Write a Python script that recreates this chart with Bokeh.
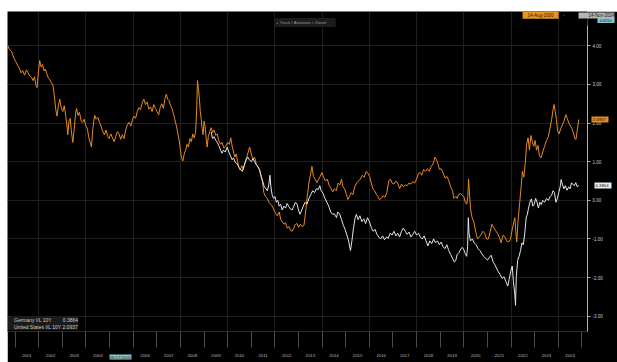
from bokeh.plotting import figure
from bokeh.models import (Range1d, FixedTicker, NumeralTickFormatter, Label,
                          Legend, LegendItem, LinearAxis, Spacer)
from bokeh.layouts import column, row
from bokeh.embed import file_html
from bokeh.resources import INLINE

# ---------------- data ----------------
series_names = ["Germany I/L 10Y", "United States I/L 10Y"]
start_date = "14-Aug-2000"
end_date = "14-Nov-2024"
cursor_date = "06/17/2005"
cursor_year = 2005.46
cursor_value = 4.655
controls_text = "+ Track    / Annotate    \u2315 Zoom"

years = list(range(2001, 2025))
y_ticks = [-3, -2, -1, 0, 1, 2, 3, 4]
grid_years = list(range(2002, 2025, 2))

us_t = [2000.65, 2000.75, 2000.85, 2000.95, 2001.02, 2001.10, 2001.18, 2001.25, 2001.32, 2001.40,
        2001.48, 2001.55, 2001.62, 2001.70, 2001.76, 2001.82, 2001.88, 2001.93, 2001.98, 2002.04,
        2002.10, 2002.16, 2002.22, 2002.28, 2002.34, 2002.40, 2002.47, 2002.53, 2002.60, 2002.66,
        2002.72, 2002.77, 2002.83, 2002.89, 2002.95, 2003.02, 2003.08, 2003.14, 2003.19, 2003.23,
        2003.28, 2003.33, 2003.38, 2003.44, 2003.50, 2003.56, 2003.60, 2003.66, 2003.72, 2003.80,
        2003.86, 2003.92, 2004.00, 2004.06, 2004.12, 2004.18, 2004.23, 2004.28, 2004.33, 2004.37,
        2004.43, 2004.50, 2004.57, 2004.64, 2004.70, 2004.78, 2004.85, 2004.92, 2004.98, 2005.05,
        2005.12, 2005.19, 2005.26, 2005.33, 2005.40, 2005.47, 2005.54, 2005.61, 2005.68, 2005.75,
        2005.82, 2005.90, 2005.97, 2006.03, 2006.10, 2006.17, 2006.24, 2006.31, 2006.38, 2006.45,
        2006.52, 2006.59, 2006.66, 2006.73, 2006.80, 2006.87, 2006.94, 2007.01, 2007.08, 2007.14,
        2007.21, 2007.28, 2007.34, 2007.40, 2007.46, 2007.52, 2007.58, 2007.64, 2007.70, 2007.76,
        2007.82, 2007.87, 2007.93, 2007.98, 2008.04, 2008.10, 2008.16, 2008.22, 2008.28, 2008.34,
        2008.40, 2008.46, 2008.52, 2008.58, 2008.64, 2008.69, 2008.72, 2008.76, 2008.80, 2008.84,
        2008.88, 2008.92, 2008.96, 2009.00, 2009.04, 2009.09, 2009.13, 2009.18, 2009.24, 2009.30,
        2009.36, 2009.42, 2009.50, 2009.56, 2009.62, 2009.70, 2009.76, 2009.84, 2009.92, 2010.00,
        2010.07, 2010.13, 2010.19, 2010.25, 2010.30, 2010.36, 2010.42, 2010.48, 2010.53, 2010.60,
        2010.66, 2010.72, 2010.80, 2010.87, 2010.93, 2011.00, 2011.07, 2011.14, 2011.21, 2011.28,
        2011.35, 2011.42, 2011.47, 2011.53, 2011.60, 2011.68, 2011.75, 2011.82, 2011.89, 2011.96,
        2012.04, 2012.10, 2012.18, 2012.25, 2012.31, 2012.38, 2012.45, 2012.52, 2012.60, 2012.66,
        2012.73, 2012.80, 2012.87, 2012.94, 2013.00, 2013.08, 2013.15, 2013.23, 2013.30, 2013.37,
        2013.44, 2013.50, 2013.57, 2013.63, 2013.70, 2013.78, 2013.85, 2013.92, 2013.99, 2014.06,
        2014.14, 2014.22, 2014.30, 2014.38, 2014.45, 2014.52, 2014.60, 2014.68, 2014.75, 2014.82,
        2014.88, 2014.95, 2015.03, 2015.09, 2015.16, 2015.23, 2015.30, 2015.38, 2015.46, 2015.54,
        2015.62, 2015.70, 2015.78, 2015.87, 2015.94, 2016.01, 2016.08, 2016.15, 2016.22, 2016.30,
        2016.36, 2016.42, 2016.50, 2016.58, 2016.66, 2016.74, 2016.82, 2016.89, 2016.96, 2017.04,
        2017.12, 2017.20, 2017.28, 2017.36, 2017.44, 2017.52, 2017.60, 2017.68, 2017.76, 2017.84,
        2017.92, 2018.00, 2018.08, 2018.15, 2018.22, 2018.30, 2018.38, 2018.46, 2018.54, 2018.62,
        2018.70, 2018.78, 2018.84, 2018.90, 2018.97, 2019.04, 2019.12, 2019.20, 2019.28, 2019.36,
        2019.44, 2019.52, 2019.58, 2019.66, 2019.72, 2019.78, 2019.86, 2019.94, 2020.00, 2020.06,
        2020.12, 2020.17, 2020.20, 2020.23, 2020.28, 2020.35, 2020.42, 2020.50, 2020.58, 2020.65,
        2020.72, 2020.80, 2020.88, 2020.96, 2021.04, 2021.12, 2021.19, 2021.26, 2021.34, 2021.42,
        2021.50, 2021.58, 2021.66, 2021.74, 2021.82, 2021.90, 2021.97, 2022.05, 2022.12, 2022.16,
        2022.20, 2022.24, 2022.30, 2022.36, 2022.42, 2022.48, 2022.54, 2022.60, 2022.66, 2022.72,
        2022.78, 2022.84, 2022.90, 2022.96, 2023.02, 2023.08, 2023.14, 2023.20, 2023.27, 2023.34,
        2023.42, 2023.50, 2023.58, 2023.66, 2023.72, 2023.78, 2023.82, 2023.87, 2023.92, 2023.97,
        2024.03, 2024.10, 2024.17, 2024.24, 2024.32, 2024.38, 2024.45, 2024.52, 2024.58, 2024.64,
        2024.70, 2024.75, 2024.80, 2024.87]
us_v = [4.05, 3.92, 3.85, 3.68, 3.60, 3.50, 3.42, 3.30, 3.36, 3.24,
        3.38, 3.30, 3.22, 3.18, 3.10, 3.20, 2.98, 2.92, 3.30, 3.62,
        3.45, 3.52, 3.35, 3.40, 3.28, 3.18, 3.12, 3.05, 2.98, 2.70,
        2.35, 2.18, 2.45, 2.62, 2.40, 2.30, 2.45, 2.20, 1.95, 1.70,
        2.05, 2.12, 1.80, 1.50, 1.85, 2.25, 2.38, 2.20, 2.28, 2.05,
        2.02, 2.10, 1.92, 1.85, 1.62, 1.50, 1.38, 1.80, 2.05, 2.20,
        2.10, 2.15, 2.02, 1.92, 1.80, 1.70, 1.82, 1.65, 1.60, 1.72,
        1.62, 1.52, 1.65, 1.78, 1.72, 1.58, 1.70, 1.60, 1.82, 1.95,
        2.02, 1.92, 2.10, 2.18, 2.12, 2.30, 2.40, 2.35, 2.52, 2.62,
        2.48, 2.55, 2.36, 2.42, 2.30, 2.48, 2.38, 2.30, 2.22, 2.40,
        2.50, 2.38, 2.62, 2.75, 2.62, 2.58, 2.45, 2.38, 2.25, 2.10,
        1.95, 1.80, 1.60, 1.40, 1.12, 1.02, 1.20, 1.30, 1.45, 1.38,
        1.60, 1.52, 1.72, 1.62, 1.75, 2.40, 3.10, 2.90, 2.65, 2.30,
        2.10, 1.85, 1.70, 2.05, 1.92, 1.60, 1.38, 1.65, 1.78, 1.88,
        1.75, 1.82, 1.68, 1.72, 1.55, 1.45, 1.50, 1.35, 1.40, 1.50,
        1.45, 1.62, 1.40, 1.25, 1.12, 1.20, 1.00, 0.85, 0.78, 0.90,
        0.80, 0.95, 1.10, 1.25, 1.38, 1.20, 1.05, 1.12, 0.95, 0.85,
        0.78, 0.60, 0.50, 0.20, 0.10, 0.05, -0.05, -0.10, -0.15, -0.25,
        -0.35, -0.40, -0.30, -0.50, -0.55, -0.62, -0.58, -0.72, -0.68, -0.78,
        -0.80, -0.72, -0.62, -0.60, -0.70, -0.62, -0.68, -0.65, -0.30, 0.10,
        0.45, 0.65, 0.88, 0.62, 0.55, 0.46, 0.55, 0.62, 0.72, 0.60,
        0.50, 0.55, 0.38, 0.30, 0.22, 0.30, 0.25, 0.45, 0.40, 0.55,
        0.35, 0.30, 0.15, 0.02, 0.10, 0.20, 0.15, 0.35, 0.45, 0.50,
        0.55, 0.65, 0.60, 0.75, 0.70, 0.62, 0.45, 0.30, 0.25, 0.15,
        0.10, 0.02, 0.05, 0.12, 0.08, 0.20, 0.50, 0.55, 0.45, 0.42,
        0.50, 0.45, 0.30, 0.42, 0.35, 0.40, 0.38, 0.45, 0.42, 0.48,
        0.45, 0.55, 0.70, 0.72, 0.65, 0.80, 0.75, 0.82, 0.75, 0.88,
        0.95, 1.12, 1.05, 0.95, 0.80, 0.82, 0.72, 0.58, 0.62, 0.52,
        0.35, 0.25, 0.05, 0.10, 0.05, 0.15, 0.18, 0.12, 0.10, -0.05,
        -0.10, 0.10, 0.55, 0.30, -0.20, -0.45, -0.55, -0.80, -1.00, -0.95,
        -0.90, -0.80, -0.85, -1.00, -1.00, -0.80, -0.62, -0.70, -0.78, -0.85,
        -0.95, -1.10, -0.90, -0.95, -1.05, -1.08, -1.02, -0.75, -0.55, -0.45,
        -0.80, -1.08, -0.50, -0.10, 0.30, 0.75, 0.60, 0.95, 1.45, 1.62,
        1.30, 1.68, 1.52, 1.40, 1.55, 1.30, 1.42, 1.15, 1.10, 1.25,
        1.40, 1.55, 1.65, 1.90, 2.10, 2.35, 2.48, 2.30, 2.10, 1.80,
        1.72, 1.85, 1.95, 2.05, 2.22, 2.12, 2.00, 1.92, 1.85, 1.75,
        1.60, 1.58, 1.80, 2.0937]

de_t = [2009.30, 2009.36, 2009.42, 2009.50, 2009.56, 2009.62, 2009.70, 2009.76, 2009.82, 2009.90,
        2009.98, 2010.05, 2010.12, 2010.19, 2010.25, 2010.32, 2010.40, 2010.48, 2010.55, 2010.62,
        2010.70, 2010.78, 2010.85, 2010.92, 2011.00, 2011.07, 2011.14, 2011.21, 2011.28, 2011.35,
        2011.42, 2011.48, 2011.55, 2011.62, 2011.68, 2011.74, 2011.79, 2011.83, 2011.88, 2011.94,
        2012.00, 2012.06, 2012.12, 2012.18, 2012.24, 2012.31, 2012.38, 2012.45, 2012.52, 2012.58,
        2012.65, 2012.73, 2012.80, 2012.87, 2012.94, 2013.00, 2013.06, 2013.12, 2013.20, 2013.28,
        2013.36, 2013.44, 2013.52, 2013.60, 2013.68, 2013.76, 2013.84, 2013.90, 2013.96, 2014.04,
        2014.12, 2014.20, 2014.28, 2014.36, 2014.44, 2014.52, 2014.61, 2014.66, 2014.74, 2014.82,
        2014.90, 2014.97, 2015.05, 2015.12, 2015.20, 2015.26, 2015.33, 2015.40, 2015.45, 2015.52,
        2015.60, 2015.68, 2015.76, 2015.84, 2015.92, 2016.00, 2016.08, 2016.16, 2016.24, 2016.32,
        2016.40, 2016.48, 2016.56, 2016.64, 2016.72, 2016.80, 2016.88, 2016.96, 2017.04, 2017.12,
        2017.20, 2017.28, 2017.36, 2017.44, 2017.52, 2017.60, 2017.68, 2017.76, 2017.84, 2017.92,
        2018.00, 2018.08, 2018.16, 2018.24, 2018.32, 2018.40, 2018.48, 2018.56, 2018.64, 2018.72,
        2018.80, 2018.88, 2018.96, 2019.04, 2019.12, 2019.20, 2019.28, 2019.36, 2019.44, 2019.52,
        2019.60, 2019.66, 2019.72, 2019.80, 2019.88, 2019.94, 2020.00, 2020.06, 2020.12, 2020.16,
        2020.19, 2020.22, 2020.28, 2020.36, 2020.44, 2020.52, 2020.60, 2020.68, 2020.76, 2020.84,
        2020.92, 2021.00, 2021.08, 2021.16, 2021.24, 2021.30, 2021.38, 2021.46, 2021.54, 2021.62,
        2021.70, 2021.78, 2021.86, 2021.92, 2021.98, 2022.05, 2022.10, 2022.16, 2022.19, 2022.22,
        2022.28, 2022.34, 2022.40, 2022.46, 2022.52, 2022.58, 2022.64, 2022.69, 2022.74, 2022.80,
        2022.86, 2022.92, 2022.98, 2023.04, 2023.10, 2023.16, 2023.22, 2023.28, 2023.34, 2023.42,
        2023.50, 2023.58, 2023.66, 2023.72, 2023.78, 2023.84, 2023.90, 2023.96, 2024.02, 2024.08,
        2024.12, 2024.18, 2024.24, 2024.30, 2024.37, 2024.44, 2024.50, 2024.56, 2024.62, 2024.68,
        2024.74, 2024.80, 2024.87]
de_v = [1.77, 1.60, 1.65, 1.55, 1.50, 1.42, 1.30, 1.22, 1.30, 1.25,
        1.38, 1.25, 1.15, 1.05, 1.10, 0.98, 0.95, 0.85, 0.80, 0.75,
        0.90, 1.05, 1.12, 1.05, 1.00, 1.08, 1.00, 0.92, 0.88, 0.80,
        0.62, 0.50, 0.35, 0.30, 0.25, 0.40, 0.65, 0.35, 0.15, 0.05,
        0.10, -0.05, 0.00, -0.15, -0.10, -0.25, -0.15, -0.20, -0.08, -0.15,
        -0.22, -0.25, -0.15, -0.05, -0.10, -0.25, -0.36, -0.28, -0.15, -0.05,
        -0.10, 0.05, 0.15, 0.25, 0.20, 0.30, 0.28, 0.38, 0.25, 0.18,
        0.05, -0.05, -0.15, -0.30, -0.36, -0.35, -0.45, -0.30, -0.35, -0.50,
        -0.65, -0.75, -0.90, -1.05, -1.30, -1.05, -0.70, -0.45, -0.36, -0.50,
        -0.40, -0.55, -0.48, -0.60, -0.45, -0.55, -0.70, -0.80, -0.75, -0.88,
        -0.95, -1.00, -0.92, -1.02, -0.95, -0.98, -0.85, -0.90, -0.80, -0.92,
        -0.85, -0.95, -0.80, -0.72, -0.80, -0.88, -0.82, -0.95, -0.88, -0.80,
        -0.90, -0.85, -0.95, -1.00, -0.92, -1.05, -1.18, -1.05, -1.12, -1.00,
        -1.10, -1.05, -1.15, -1.08, -1.20, -1.25, -1.15, -1.30, -1.40, -1.50,
        -1.60, -1.55, -1.40, -1.35, -1.25, -1.22, -1.28, -1.38, -1.45, -1.20,
        -0.45, -0.85, -1.05, -1.00, -1.10, -1.15, -1.25, -1.30, -1.38, -1.45,
        -1.50, -1.55, -1.48, -1.42, -1.60, -1.65, -1.75, -1.85, -1.92, -2.02,
        -1.98, -2.10, -2.22, -2.05, -1.85, -1.70, -2.10, -2.45, -2.72, -2.00,
        -1.55, -1.45, -1.30, -1.10, -1.15, -0.85, -0.45, -0.36, -0.20, -0.05,
        0.04, -0.15, -0.10, 0.05, -0.05, -0.20, -0.05, -0.11, 0.00, -0.05,
        0.05, 0.00, 0.10, 0.14, 0.25, 0.20, -0.05, 0.05, 0.20, 0.35,
        0.54, 0.40, 0.30, 0.38, 0.26, 0.35, 0.30, 0.45, 0.42, 0.38,
        0.46, 0.35, 0.3864]

# ---------------- styling ----------------
ORANGE = "#e8891f"
WHITE = "#e6e6e6"
TEAL = "#86c8d2"
FONT = "Liberation Sans"
X0, X1 = 2000.676, 2025.237
Y0, Y1 = -3.396, 4.890

p = figure(width=610, height=351, output_backend="svg", toolbar_location=None,
           x_range=Range1d(X0, X1), y_range=Range1d(Y0, Y1),
           y_axis_location="right", background_fill_color="black",
           border_fill_color="black", outline_line_color=None,
           min_border_left=0, min_border_right=23, min_border_top=0,
           min_border_bottom=16)

# grid
p.xgrid.ticker = FixedTicker(ticks=grid_years)
p.xgrid.grid_line_color = "#1f1f1f"
p.ygrid.grid_line_color = "#1f1f1f"

# x axis: labels mid-year, separators at year boundaries (minor ticks)
xa = p.xaxis[0]
xa.ticker = FixedTicker(ticks=[y + 0.5 for y in years],
                        minor_ticks=[y for y in years] + [years[-1] + 1])
overrides = {y + 0.5: str(y) for y in years}
overrides[2005.5] = ""
xa.major_label_overrides = overrides
xa.major_tick_out = 0
xa.major_tick_in = 0
xa.minor_tick_out = 16
xa.minor_tick_in = 0
xa.minor_tick_line_color = "#4a4a4a"
xa.axis_line_color = "#2a2a2a"
xa.major_label_text_color = "#b8b8b8"
xa.major_label_text_font_size = "4.3px"
xa.major_label_text_font = FONT
xa.major_label_standoff = 6

# y axis on the right
ya = p.yaxis[0]
ya.ticker = FixedTicker(ticks=y_ticks)
ya.formatter = NumeralTickFormatter(format="0.00")
ya.bounds = (Y0, 4.54)
ya.axis_line_color = "#b0b0b0"
ya.major_tick_line_color = "#b0b0b0"
ya.major_tick_out = 3
ya.major_tick_in = 0
ya.minor_tick_line_color = None
ya.major_label_standoff = 2
ya.major_label_text_font_size = "4.5px"
ya.major_label_text_font = FONT
ya.major_label_text_color = "#cccccc"

# series
p.line(us_t, us_v, line_color=ORANGE, line_width=1)
p.line(de_t, de_v, line_color=WHITE, line_width=1)

# legend with square swatches
sq_de = p.quad(left=[], right=[], top=[], bottom=[], fill_color="#ffffff", line_color=None)
sq_us = p.quad(left=[], right=[], top=[], bottom=[], fill_color=ORANGE, line_color=None)
legend = Legend(items=[
    LegendItem(label=series_names[0] + "\u00a0" * 8 + f"{de_v[-1]:.4f}", renderers=[sq_de]),
    LegendItem(label=series_names[1] + "\u00a0" + f"{us_v[-1]:.4f}", renderers=[sq_us]),
], location=(1, 1), background_fill_color="#1b1b1b", background_fill_alpha=1,
    border_line_color=None, label_text_font_size="5px", label_text_font=FONT,
    label_text_color="#cfcfcf", glyph_width=4, glyph_height=4, label_height=5,
    label_standoff=2, padding=3, spacing=1, margin=0)
p.add_layout(legend)


def tag(side, value, text, color, tick_in, tick_out, thick, standoff,
        text_color="#111111", size="4.3px"):
    """A one-tick axis stacked after the main axis: its thick tick is the tag box
    (drawn back toward the frame with tick_in) and its label is the tag text.
    The negative standoff keeps the extra axis from taking layout room."""
    ax = LinearAxis(ticker=FixedTicker(ticks=[value], minor_ticks=[]),
                    major_label_overrides={value: text},
                    axis_line_color=None, minor_tick_line_color=None,
                    major_tick_line_color=color, major_tick_line_width=thick,
                    major_tick_in=tick_in, major_tick_out=tick_out,
                    major_label_standoff=standoff,
                    major_label_text_font_size=size, major_label_text_font=FONT,
                    major_label_text_color=text_color)
    p.add_layout(ax, side)


# last-value tags on the right axis
tag("right", us_v[-1], f"{us_v[-1]:.4f}", ORANGE, 14, 3, 6, -16)
tag("right", de_v[-1], f"{de_v[-1]:.4f}", "#ececec", 14, 3, 6, -16)
# crosshair read-out at the top of the axis
tag("right", cursor_value, f"{cursor_value:.4f}", TEAL, 14, 3, 5, -15, size="4px")
# end-date box at the top right
tag("right", 4.79, end_date, "#b4b4b4", 36, 0, 6, -26, text_color="#222222", size="4.5px")
# cursor date on the x axis
tag("below", cursor_year, cursor_date, TEAL, 5, 0, 22, -5, text_color="#1a1a1a")

# top controls and start-date box (inside the frame)
p.add_layout(Label(x=2013.27, y=4.605, text=controls_text, text_font=FONT,
                   text_font_size="4.3px", text_color="#9a9a9a", text_align="center",
                   text_baseline="middle", background_fill_color="#1c1c1c", padding=2))
p.add_layout(Label(x=2023.25, y=4.79, text=start_date, text_font=FONT,
                   text_font_size="4.5px", text_color="#222222", text_align="center",
                   text_baseline="middle", background_fill_color="#e8941e", padding=(5, 1)))
p.add_layout(Label(x=2024.23, y=4.79, text="-", text_font=FONT,
                   text_font_size="4.5px", text_color="#bbbbbb", text_align="center",
                   text_baseline="middle"))

page = column(Spacer(height=11), row(Spacer(width=7), p))
open("out.html", "w").write(file_html(page, INLINE))
